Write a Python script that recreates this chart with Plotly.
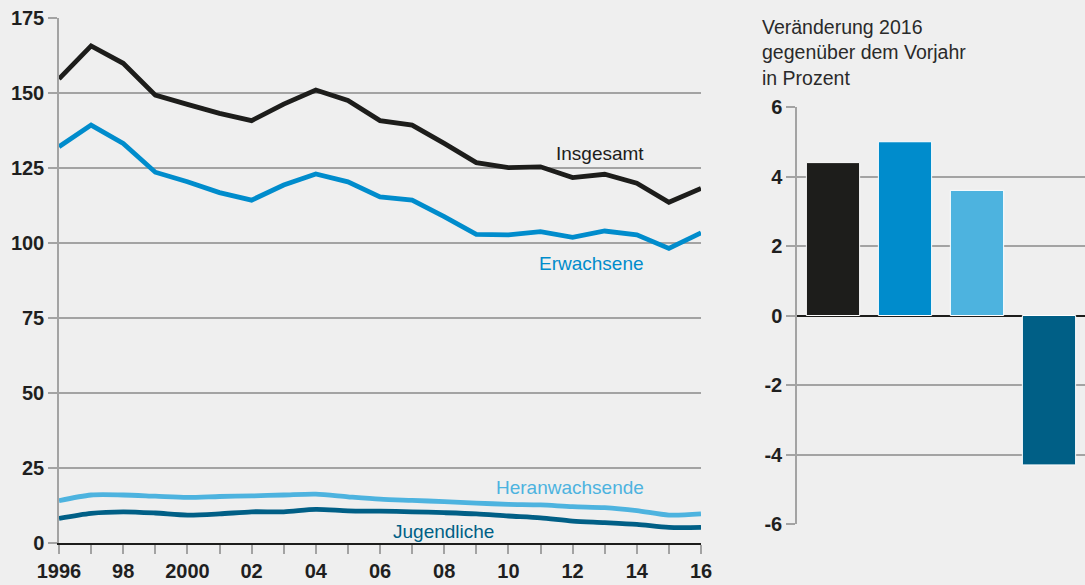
"""Tatverdächtige 1996-2016 mit Veränderung gegenüber dem Vorjahr."""

import plotly.graph_objects as go

BG = "#efefef"
GRID = "#a3a3a3"
TEXT = "#1f1f1f"
BLACK = "#1d1d1b"
BLUE = "#008ccc"
LIGHT = "#4db3df"
DARK = "#005f86"
FONT = "Liberation Sans, Arial, sans-serif"

years = list(range(1996, 2017))
year_labels = ["1996", "", "98", "", "2000", "", "02", "", "04", "", "06",
               "", "08", "", "10", "", "12", "", "14", "", "16"]

insgesamt = [154.7, 165.7, 159.9, 149.3, 146.2, 143.2, 140.8, 146.3, 151.0, 147.5, 140.8,
             139.3, 133.2, 126.8, 125.1, 125.4, 121.8, 122.9, 119.9, 113.6, 118.2]
erwachsene = [132.1, 139.3, 133.2, 123.6, 120.4, 116.8, 114.3, 119.3, 123.0, 120.4, 115.4,
              114.3, 108.8, 102.9, 102.7, 103.8, 101.9, 104.0, 102.7, 98.2, 103.4]
heranwachsende = [14.1, 16.0, 16.0, 15.6, 15.2, 15.5, 15.7, 16.0, 16.3, 15.4, 14.6,
                  14.2, 13.8, 13.3, 12.9, 12.7, 12.1, 11.8, 10.8, 9.3, 9.7]
jugendliche = [8.2, 9.9, 10.4, 10.0, 9.3, 9.7, 10.4, 10.4, 11.2, 10.7, 10.6,
               10.4, 10.1, 9.7, 9.0, 8.4, 7.3, 6.8, 6.2, 5.2, 5.2]

groups = ["Insgesamt", "Erwachsene", "Heranwachsende", "Jugendliche"]
change_2016 = [4.4, 5.0, 3.6, -4.3]
group_colors = [BLACK, BLUE, LIGHT, DARK]

W, H = 1085, 585


def px_x(p):
    return p / W


def px_y(p):
    return (H - p) / H


fig = go.Figure()

series = [
    ("Insgesamt", insgesamt, BLACK, "linear"),
    ("Erwachsene", erwachsene, BLUE, "linear"),
    ("Heranwachsende", heranwachsende, LIGHT, "spline"),
    ("Jugendliche", jugendliche, DARK, "spline"),
]
for name, values, color, shape in series:
    fig.add_trace(
        go.Scatter(
            x=years,
            y=values,
            name=name,
            mode="lines",
            line=dict(color=color, width=4.8, shape=shape, smoothing=0.8),
            xaxis="x",
            yaxis="y",
        )
    )

fig.add_trace(
    go.Bar(
        x=groups,
        y=change_2016,
        marker=dict(color=group_colors, line=dict(color="#ffffff", width=1)),
        xaxis="x2",
        yaxis="y2",
    )
)

# series labels next to the lines
labels = [
    ("Insgesamt", 2014.3, 129.7, BLACK),
    ("Erwachsene", 2014.3, 93.3, BLUE),
    ("Heranwachsende", 2014.3, 18.4, LIGHT),
    ("Jugendliche", 2009.6, 4.0, DARK),
]
for text, x, y, color in labels:
    fig.add_annotation(
        text=text, x=x, y=y, xref="x", yref="y",
        xanchor="right", yanchor="middle", showarrow=False,
        font=dict(family=FONT, size=19, color=color),
    )

fig.add_annotation(
    text="Veränderung 2016<br>gegenüber dem Vorjahr<br>in Prozent",
    x=px_x(760), y=px_y(14), xref="paper", yref="paper",
    xanchor="left", yanchor="top", align="left", showarrow=False,
    font=dict(family=FONT, size=19.5, color="#2a2a2a"),
)

tick_font = dict(family=FONT, size=20, color=TEXT, weight="bold")

fig.update_layout(
    width=W,
    height=H,
    paper_bgcolor=BG,
    plot_bgcolor=BG,
    showlegend=False,
    margin=dict(l=0, r=0, t=0, b=0),
    bargap=0.26,
    xaxis=dict(
        domain=[px_x(59), px_x(701)],
        range=[1996, 2016],
        tickvals=years,
        ticktext=year_labels,
        ticks="outside",
        ticklen=9,
        tickwidth=1.5,
        tickcolor=GRID,
        tickfont=tick_font,
        showgrid=False,
        zeroline=False,
        showline=True,
        linecolor=BLACK,
        linewidth=1.5,
        automargin=False,
        anchor="y",
    ),
    yaxis=dict(
        domain=[px_y(543), px_y(18)],
        range=[0, 175],
        tickvals=[0, 25, 50, 75, 100, 125, 150, 175],
        ticks="outside",
        ticklen=9,
        tickwidth=1.5,
        tickcolor=GRID,
        tickfont=tick_font,
        gridcolor=GRID,
        gridwidth=1.5,
        zeroline=False,
        showline=True,
        linecolor=GRID,
        linewidth=1.5,
        automargin=False,
        anchor="x",
    ),
    xaxis2=dict(
        domain=[px_x(797), 1.0],
        range=[-0.5, 3.5],
        showticklabels=False,
        showgrid=False,
        zeroline=False,
        showline=False,
        automargin=False,
        anchor="y2",
    ),
    yaxis2=dict(
        domain=[px_y(524), px_y(107)],
        range=[-6, 6],
        tickvals=[-6, -4, -2, 0, 2, 4, 6],
        ticktext=["-6", "-4", "-2", "0", "2", "4", "6"],
        ticks="outside",
        ticklen=9,
        tickwidth=1.5,
        tickcolor=GRID,
        tickfont=tick_font,
        gridcolor=GRID,
        gridwidth=1.5,
        zeroline=True,
        zerolinecolor=BLACK,
        zerolinewidth=1.5,
        showline=True,
        linecolor=GRID,
        linewidth=1.5,
        automargin=False,
        anchor="x2",
    ),
)

# the page's default body margin would shift the figure by 8px
fig.write_html(
    "out.html",
    config={"displayModeBar": False},
    post_script="document.body.style.margin='0px';document.body.style.background='%s';" % BG,
)
